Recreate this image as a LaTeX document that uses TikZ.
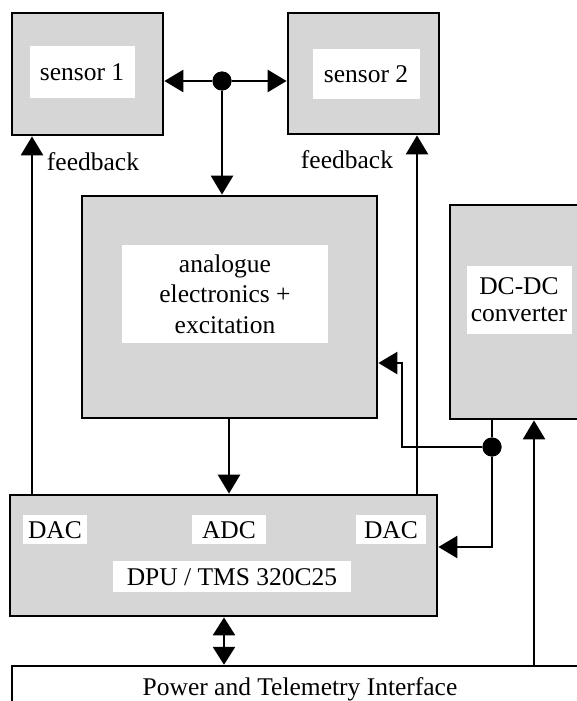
\documentclass[tikz,border=0pt]{standalone}
\usepackage{fontspec}
\setmainfont{Liberation Serif}
\usetikzlibrary{arrows.meta}
\tikzset{
  blockbox/.style={draw=black, line width=2.8pt, fill=black!16, inner sep=0pt},
  whitelbl/.style={fill=white, inner sep=0pt, font=\fontsize{25.5}{30.5}\selectfont, align=center},
  plainlbl/.style={inner sep=0pt, font=\fontsize{25.5}{30.5}\selectfont},
  conn/.style={line width=2.6pt, -{Triangle[length=19pt,width=22pt]}},
  biconn/.style={line width=2.6pt, {Triangle[length=18pt,width=22pt]}-{Triangle[length=18pt,width=22pt]}},
  wire/.style={line width=2.6pt},
  junction/.style={circle, fill=black, minimum size=19pt, inner sep=0pt},
}
\begin{document}
\begin{tikzpicture}[x=1pt,y=-1pt]
\useasboundingbox (0,0) rectangle (577,701);
\clip (0,0) rectangle (577,701);
% blocks
\node[blockbox, minimum width=151pt, minimum height=122pt] (s1) at (87.5,74) {};
\node[blockbox, minimum width=151pt, minimum height=121pt] (s2) at (363.5,73.5) {};
\node[blockbox, minimum width=295pt, minimum height=222pt] (ana) at (229.5,307) {};
\node[blockbox, minimum width=160pt, minimum height=214pt] (dc) at (530,312) {};
\node[blockbox, minimum width=427pt, minimum height=121pt] (dpu) at (223.5,555.5) {};
\node[draw=black, line width=2.4pt, fill=white, minimum width=608pt, minimum height=74pt, inner sep=0pt] (power) at (316,703) {};
% labels
\node[whitelbl, minimum width=105pt, minimum height=51pt] (s1t) at (82,72) {sensor 1};
\node[whitelbl, minimum width=107pt, minimum height=50pt] (s2t) at (366,74) {sensor 2};
\node[whitelbl, minimum width=206pt, minimum height=98pt] (anat) at (225,294) {analogue\\electronics +\\excitation};
\node[whitelbl, minimum width=105pt, minimum height=68pt, font=\fontsize{25.5}{27}\selectfont] (dct) at (519,300) {DC-DC\\converter};
\node[whitelbl, anchor=base, inner xsep=5pt, inner ysep=6pt] (dacl) at (55,538) {DAC};
\node[whitelbl, anchor=base, inner xsep=10pt, inner ysep=6pt] (adc) at (229,538) {ADC};
\node[whitelbl, anchor=base, inner xsep=8pt, inner ysep=6pt] (dacr) at (391,538) {DAC};
\node[whitelbl, anchor=base, inner xsep=14pt, inner ysep=7pt] (dput) at (232,585) {DPU / TMS 320C25};
\node[plainlbl, anchor=base] (pwrt) at (300,695) {Power and Telemetry Interface};
\node[plainlbl, anchor=base] (fbl1) at (93,170) {feedback};
\node[plainlbl, anchor=base] (fbl2) at (347,168) {feedback};
% junctions and coordinates
\node[junction] (dot1) at (222,81) {};
\node[junction] (dot2) at (492,447) {};
\coordinate (fbL) at (32,495);
\coordinate (fbR) at (417,495);
\coordinate (bend1) at (402,447);
% connectors
\draw[conn] (dot1) -- (dot1 -| s1.east);
\draw[conn] (dot1) -- (dot1 -| s2.west);
\draw[conn] (dot1) -- (dot1 |- ana.north);
\draw[conn] (adc |- ana.south) -- (adc |- dpu.north);
\draw[conn] (fbL) -- (fbL |- s1.south);
\draw[conn] (fbR) -- (fbR |- s2.south);
\draw[wire] (dot2) -- (dot2 |- dc.south);
\draw[conn] (dot2) -- (bend1) |- (ana.east |- 0,363);
\draw[conn] (dot2) -- (dot2 |- 0,547) -- (dpu.east |- 0,547);
\draw[conn] (power.north -| 534,0) -- (dc.south -| 534,0);
\draw[biconn] (dpu.south -| 224,0) -- (power.north -| 224,0);
\node[junction] (dot1top) at (dot1) {};
\node[junction] (dot2top) at (dot2) {};
\end{tikzpicture}
\end{document}
